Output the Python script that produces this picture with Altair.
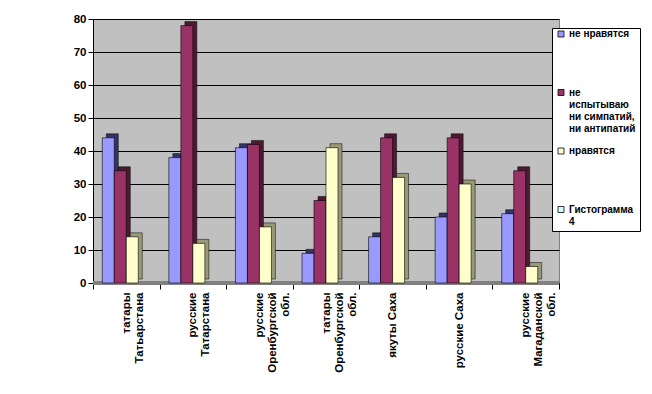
import altair as alt
import pandas as pd

categories = ["татары Татьарстана", "русские Татарстана", "русские Оренбургской обл.",
              "татары Оренбургской обл.", "якуты Саха", "русские Саха",
              "русские Магаданской обл."]
category_lines = [["татары", "Татьарстана"], ["русские", "Татарстана"],
                  ["русские", "Оренбургской", "обл."], ["татары", "Оренбургской", "обл."],
                  ["якуты Саха"], ["русские Саха"], ["русские", "Магаданской", "обл."]]
series = ["не нравятся", "не испытываю ни симпатий, ни антипатий", "нравятся", "Гистограмма 4"]
series_lines = [["не нравятся"], ["не", "испытываю", "ни симпатий,", "ни антипатий"],
                ["нравятся"], ["Гистограмма", "4"]]
ne_nravyatsya = [44, 38, 41, 9, 14, 20, 21]
neutral = [34, 78, 42, 25, 44, 44, 34]
nravyatsya = [14, 12, 17, 41, 32, 30, 5]
y_ticks = [0, 10, 20, 30, 40, 50, 60, 70, 80]
front_colors = ["#9999FF", "#993366", "#FFFFCC", "#CCFFFF"]
side_colors = ["#333366", "#4D1A33", "#999977", "#669999"]

rows = []
for vals, s in zip([ne_nravyatsya, neutral, nravyatsya], series[:3]):
    for c, v in zip(categories, vals):
        rows.append({"category": c, "series": s, "value": v})
df = pd.DataFrame(rows)


def lines_expr(names, lines):
    expr = "datum.label"
    for n, l in reversed(list(zip(names, lines))):
        arr = "[" + ",".join("'" + x + "'" for x in l) + "]"
        expr = f"datum.label == '{n}' ? {arr} : ({expr})"
    return expr


FONT = "Liberation Sans"

x_enc = alt.X("category:N", sort=categories,
              scale=alt.Scale(domain=categories, paddingInner=0, paddingOuter=0),
              axis=alt.Axis(title=None, labelAngle=270, labelAlign="right",
                            labelBaseline="middle", labelPadding=3, labelLineHeight=13,
                            labelFont=FONT, labelFontSize=11.5, labelFontWeight="bold",
                            labelColor="black", tickBand="extent", tickSize=6,
                            tickColor="black", domainColor="black",
                            labelExpr=lines_expr(categories, category_lines)))
y_scale = alt.Scale(domain=[0, 80], nice=False)
y_axis = alt.Axis(title=None, values=y_ticks, tickCount=9, grid=True,
                  gridColor="black", gridOpacity=1, gridWidth=1, labelOverlap=False,
                  labelFont=FONT, labelFontSize=11.5, labelFontWeight="bold",
                  labelColor="black", tickColor="black", domainColor="black",
                  tickSize=5, labelPadding=2)
y_enc = alt.Y("value:Q", scale=y_scale, axis=y_axis)

floor = alt.Chart(df).mark_rule(color="#808080", strokeWidth=3).encode(
    y=alt.YDatum(0, scale=y_scale, axis=y_axis))

side = alt.Chart(df).mark_bar(yOffset=-4, stroke="black", strokeWidth=0.5).encode(
    x=x_enc,
    xOffset=alt.XOffset("series:N", scale=alt.Scale(domain=series, paddingInner=0,
                                                     paddingOuter=0.775, align=0.715)),
    y=y_enc,
    color=alt.Color("series:N", scale=alt.Scale(domain=series, range=side_colors), legend=None),
)

front = alt.Chart(df).mark_bar(stroke="black", strokeWidth=0.6).encode(
    x=x_enc,
    xOffset=alt.XOffset("series:N", scale=alt.Scale(domain=series, paddingInner=0,
                                                     paddingOuter=0.775, align=0.5)),
    y=y_enc,
    color=alt.Color("series:N", scale=alt.Scale(domain=series, range=front_colors),
                    legend=alt.Legend(title=None, orient="none", legendX=459, legendY=9,
                                      fillColor="white", strokeColor="black", padding=4,
                                      symbolType="M-1,-2H1V0H-1Z", symbolSize=36,
                                      symbolStrokeColor="black", symbolStrokeWidth=0.8,
                                      labelFont=FONT, labelFontSize=10,
                                      labelFontWeight="bold", labelColor="black",
                                      labelBaseline="alphabetic", labelLimit=200,
                                      gridAlign="all", rowPadding=12.5, labelOffset=3,
                                      labelExpr=lines_expr(series, series_lines))),
)

chart = alt.layer(floor, side, front).resolve_scale(
    color="independent", xOffset="independent"
).properties(
    width=466, height=264,
    autosize=alt.AutoSizeParams(type="none"),
    padding={"left": 85, "top": 11, "right": 85, "bottom": 95},
).configure_view(fill="#C0C0C0", stroke="#808080")

chart.save("out.html", embed_options={"renderer": "svg", "actions": False})
